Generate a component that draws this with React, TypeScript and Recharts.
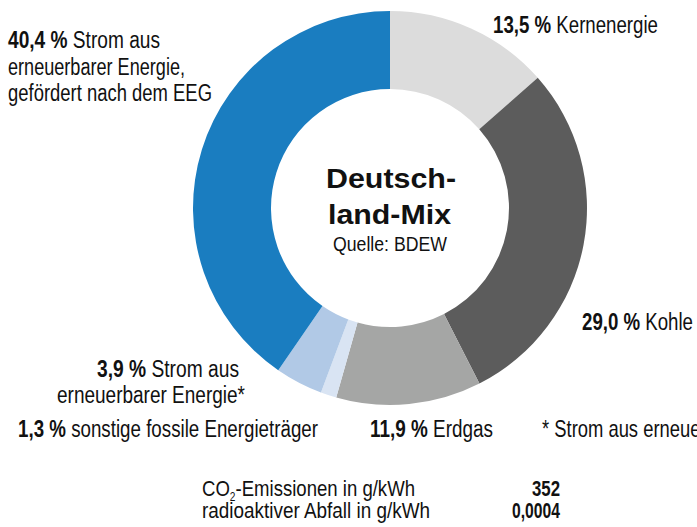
import React from "react";
import { PieChart, Pie, Cell } from "recharts";

const names = [
  "Kernenergie",
  "Kohle",
  "Erdgas",
  "sonstige fossile Energieträger",
  "Strom aus erneuerbarer Energie*",
  "Strom aus erneuerbarer Energie, gefördert nach dem EEG",
];
const values = [13.5, 29.0, 11.9, 1.3, 3.9, 40.4];
const colors = ["#dcdcdc", "#5c5c5c", "#a5a6a5", "#d9e4f3", "#b1c9e6", "#1a7dc0"];
const centerTitle = ["Deutsch-", "land-Mix"];
const sourceText = "Quelle: BDEW";
const footnote = "* Strom aus erneuerbarer Energie, nicht nach EEG gefördert";
const statLabels = ["-Emissionen in g/kWh", "radioaktiver Abfall in g/kWh"];
const statValues = ["352", "0,0004"];

const data = names.map((name, i) => ({ name, value: values[i] }));
const pct = (v: number) => v.toFixed(1).replace(".", ",") + " %";

const FONT = "'Liberation Sans', Arial, sans-serif";
const FS = 23;

const Lbl = ({ x, y, i, rest, w, anchor = "start" }: any) => (
  <text x={x} y={y} fontFamily={FONT} fontSize={FS} fill="#111" textAnchor={anchor} textLength={w} lengthAdjust="spacingAndGlyphs">
    <tspan fontWeight="bold">{pct(values[i])}</tspan>
    <tspan>{" " + rest}</tspan>
  </text>
);

const Line = ({ x, y, t, w, anchor = "start", fs = FS, bold = false }: any) => (
  <text x={x} y={y} fontFamily={FONT} fontSize={fs} fontWeight={bold ? "bold" : "normal"} fill="#111" textAnchor={anchor} textLength={w} lengthAdjust="spacingAndGlyphs">
    {t}
  </text>
);

export default function App() {
  return (
    <div style={{ position: "absolute", left: 0, top: 0, width: 697, height: 527, background: "#fff" }}>
      <PieChart width={697} height={527} margin={{ top: 0, right: 0, bottom: 0, left: 0 }}>
        <Pie
          data={data}
          dataKey="value"
          nameKey="name"
          cx={390}
          cy={208}
          innerRadius={119}
          outerRadius={197}
          startAngle={90}
          endAngle={-270}
          stroke="none"
          isAnimationActive={false}
        >
          {data.map((d, i) => (
            <Cell key={d.name} fill={colors[i]} />
          ))}
        </Pie>
      </PieChart>
      <svg width={697} height={527} style={{ position: "absolute", left: 0, top: 0, overflow: "hidden" }}>
        <Lbl x={8} y={48} i={5} rest="Strom aus" w={152} />
        <Line x={8} y={75} t="erneuerbarer Energie," w={177} />
        <Line x={8} y={101} t="gefördert nach dem EEG" w={204} />

        <Lbl x={493} y={33} i={0} rest={names[0]} w={165} />
        <Lbl x={582} y={330} i={1} rest={names[1]} w={111} />
        <Lbl x={370} y={437} i={2} rest={names[2]} w={123} />
        <g transform="translate(542,437) scale(0.8,1)">
          <text x={0} y={0} fontFamily={FONT} fontSize={FS} fill="#111">
            {footnote}
          </text>
        </g>

        <Lbl x={97} y={377} i={4} rest="Strom aus" w={142} />
        <Line x={57} y={403} t="erneuerbarer Energie*" w={188} />
        <Lbl x={18} y={437} i={3} rest={names[3]} w={300} />

        <Line x={326} y={188} t={centerTitle[0]} w={130} fs={28} bold />
        <Line x={328} y={224} t={centerTitle[1]} w={123} fs={28} bold />
        <Line x={333} y={251} t={sourceText} w={114} fs={20} />

        <text x={202} y={496} fontFamily={FONT} fontSize={22} fill="#111" textLength={213} lengthAdjust="spacingAndGlyphs">
          CO<tspan fontSize={12} dy={5}>2</tspan>
          <tspan dy={-5}>{statLabels[0]}</tspan>
        </text>
        <Line x={202} y={518} t={statLabels[1]} w={228} fs={22} />
        <Line x={532} y={496} t={statValues[0]} w={28} fs={22} bold />
        <Line x={512} y={518} t={statValues[1]} w={48} fs={22} bold />
      </svg>
    </div>
  );
}
